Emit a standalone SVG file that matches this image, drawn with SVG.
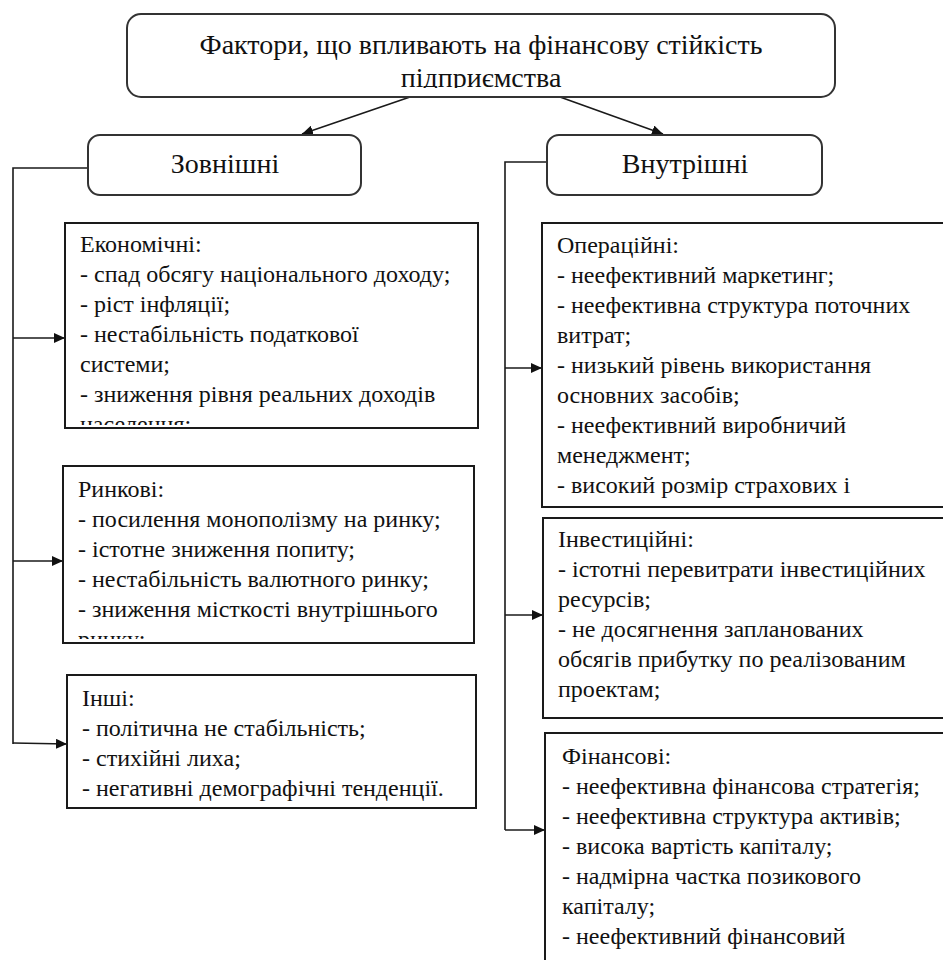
<svg xmlns="http://www.w3.org/2000/svg" width="943" height="960" viewBox="0 0 943 960">
<style>
.box{fill:#fff;stroke:#1a1a1a;stroke-width:2}
.rbox{fill:#fff;stroke:#333;stroke-width:2}
text{font-family:"Liberation Serif",Tinos,"Times New Roman","DejaVu Serif","Noto Serif",FreeSerif,Times,serif;fill:#111}
.title{font-size:28px}
.body{font-size:24px}
.conn{fill:none;stroke:#1a1a1a;stroke-width:1.6}
</style>
<defs>
<marker id="arr" markerUnits="userSpaceOnUse" markerWidth="12" markerHeight="10" refX="11" refY="5" orient="auto">
<path d="M0,0 L11,5 L0,10 z" fill="#111"/>
</marker>
<clipPath id="cTitle"><rect x="127" y="14" width="708" height="74"/></clipPath>
<clipPath id="cEco"><rect x="65" y="223" width="413" height="202"/></clipPath>
<clipPath id="cMkt"><rect x="63" y="466" width="411" height="173"/></clipPath>
</defs>
<rect x="0" y="0" width="943" height="960" fill="#fff"/>

<g id="connectors">
<line class="conn" x1="410" y1="97" x2="302" y2="134" marker-end="url(#arr)"/>
<line class="conn" x1="560" y1="97" x2="663" y2="134" marker-end="url(#arr)"/>
<polyline class="conn" points="88,168 13,168 13,744"/>
<line class="conn" x1="13" y1="338" x2="65" y2="338" marker-end="url(#arr)"/>
<line class="conn" x1="13" y1="561" x2="63" y2="561" marker-end="url(#arr)"/>
<line class="conn" x1="13" y1="743" x2="67" y2="744" marker-end="url(#arr)"/>
<polyline class="conn" points="547,162 505,162 505,830"/>
<line class="conn" x1="505" y1="368" x2="542" y2="368" marker-end="url(#arr)"/>
<line class="conn" x1="505" y1="615" x2="543" y2="615" marker-end="url(#arr)"/>
<line class="conn" x1="505" y1="830" x2="545" y2="830" marker-end="url(#arr)"/>
</g>

<g id="root">
<rect class="rbox" x="127" y="14" width="708" height="83" rx="14"/>
<g clip-path="url(#cTitle)">
<text class="title" x="481" y="54" text-anchor="middle">Фактори, що впливають на фінансову стійкість</text>
<text class="title" x="481" y="87" text-anchor="middle">підприємства</text>
</g>
</g>

<g id="external">
<rect class="rbox" x="88" y="135" width="273" height="60" rx="12"/>
<text class="title" x="225" y="173" text-anchor="middle">Зовнішні</text>
</g>

<g id="internal">
<rect class="rbox" x="547" y="135" width="275" height="60" rx="12"/>
<text class="title" x="685" y="173" text-anchor="middle">Внутрішні</text>
</g>

<g id="economic">
<rect class="box" x="65" y="223" width="413" height="205"/>
<g clip-path="url(#cEco)">
<text class="body" x="80" y="252">Економічні:</text>
<text class="body" x="80" y="282">- спад обсягу національного доходу;</text>
<text class="body" x="80" y="312">- ріст інфляції;</text>
<text class="body" x="80" y="342">- нестабільність податкової</text>
<text class="body" x="80" y="372">системи;</text>
<text class="body" x="80" y="402">- зниження рівня реальних доходів</text>
<text class="body" x="80" y="432">населення;</text>
</g>
</g>

<g id="market">
<rect class="box" x="63" y="466" width="411" height="177"/>
<g clip-path="url(#cMkt)">
<text class="body" x="78" y="497">Ринкові:</text>
<text class="body" x="78" y="527">- посилення монополізму на ринку;</text>
<text class="body" x="78" y="557">- істотне зниження попиту;</text>
<text class="body" x="78" y="587">- нестабільність валютного ринку;</text>
<text class="body" x="78" y="617">- зниження місткості внутрішнього</text>
<text class="body" x="78" y="647">ринку;</text>
</g>
</g>

<g id="other">
<rect class="box" x="67" y="675" width="409" height="133"/>
<text class="body" x="82" y="706">Інші:</text>
<text class="body" x="82" y="736">- політична не стабільність;</text>
<text class="body" x="82" y="766">- стихійні лиха;</text>
<text class="body" x="82" y="796">- негативні демографічні тенденції.</text>
</g>

<g id="operational">
<rect class="box" x="542" y="223" width="420" height="284"/>
<text class="body" x="557" y="253">Операційні:</text>
<text class="body" x="557" y="283">- неефективний маркетинг;</text>
<text class="body" x="557" y="313">- неефективна структура поточних</text>
<text class="body" x="557" y="343">витрат;</text>
<text class="body" x="557" y="373">- низький рівень використання</text>
<text class="body" x="557" y="403">основних засобів;</text>
<text class="body" x="557" y="433">- неефективний виробничий</text>
<text class="body" x="557" y="463">менеджмент;</text>
<text class="body" x="557" y="493">- високий розмір страхових і</text>
</g>

<g id="investment">
<rect class="box" x="543" y="518" width="420" height="200"/>
<text class="body" x="558" y="547">Інвестиційні:</text>
<text class="body" x="558" y="577">- істотні перевитрати інвестиційних</text>
<text class="body" x="558" y="607">ресурсів;</text>
<text class="body" x="558" y="637">- не досягнення запланованих</text>
<text class="body" x="558" y="667">обсягів прибутку по реалізованим</text>
<text class="body" x="558" y="697">проектам;</text>
</g>

<g id="financial">
<rect class="box" x="545" y="733" width="420" height="260"/>
<text class="body" x="562" y="764">Фінансові:</text>
<text class="body" x="562" y="794">- неефективна фінансова стратегія;</text>
<text class="body" x="562" y="824">- неефективна структура активів;</text>
<text class="body" x="562" y="854">- висока вартість капіталу;</text>
<text class="body" x="562" y="884">- надмірна частка позикового</text>
<text class="body" x="562" y="914">капіталу;</text>
<text class="body" x="562" y="944">- неефективний фінансовий</text>
</g>
</svg>
